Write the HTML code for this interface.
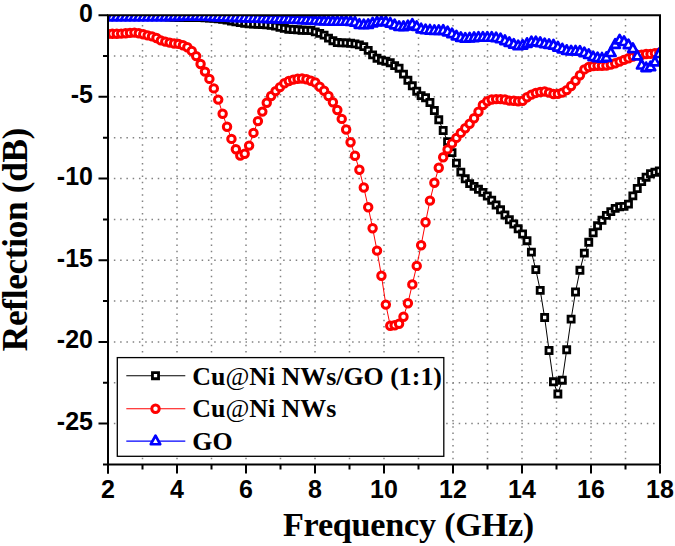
<!DOCTYPE html>
<html><head><meta charset="utf-8"><title>Reflection</title>
<style>html,body{margin:0;padding:0;background:#fff;}svg{display:block;}</style></head>
<body>
<svg width="675" height="546" viewBox="0 0 675 546">
<defs><clipPath id="pc"><rect x="108" y="15" width="552" height="449.4"/></clipPath><path id="msq" d="M-3.05 -3.05h6.1v6.1h-6.1z" stroke="#000" stroke-width="2.8" fill="#fff"/><circle id="mci" cx="0" cy="0" r="3.72" stroke="#f00" stroke-width="3.0" fill="#fff"/><path id="mtr" d="M0 -5.4L4.7 3.15H-4.7z" stroke="#00f" stroke-width="2.7" stroke-linejoin="round" fill="#fff"/></defs>
<rect x="0" y="0" width="675" height="546" fill="#fff"/>
<path d="M142.5 465.4V15 M177 465.4V15 M211.5 465.4V15 M246 465.4V15 M280.5 465.4V15 M315 465.4V15 M349.5 465.4V15 M384 465.4V15 M418.5 465.4V15 M453 465.4V15 M487.5 465.4V15 M522 465.4V15 M556.5 465.4V15 M591 465.4V15 M625.5 465.4V15 M107.6 56.04H660 M107.6 96.87H660 M107.6 137.71H660 M107.6 178.55H660 M107.6 219.38H660 M107.6 260.22H660 M107.6 301.05H660 M107.6 341.89H660 M107.6 382.73H660 M107.6 423.56H660" stroke="#828282" stroke-width="1.5" stroke-dasharray="1.5 4.77" fill="none"/>
<g clip-path="url(#pc)">
<path d="M107.95 16 L112.36 16.02 L116.77 16.03 L121.18 16.05 L125.59 16.07 L130 16.08 L134.42 16.1 L138.83 16.12 L143.24 16.13 L147.65 16.15 L152.06 16.17 L156.47 16.18 L160.88 16.2 L165.29 16.68 L169.7 17.15 L174.12 17.41 L178.53 17.45 L182.94 17.48 L187.35 17.51 L191.76 17.54 L196.17 17.57 L200.58 17.6 L204.99 17.8 L209.4 18 L213.81 18.2 L218.22 18.71 L222.64 19.23 L227.05 19.95 L231.46 20.94 L235.87 21.8 L240.28 22.52 L244.69 23.18 L249.1 23.8 L253.51 24.02 L257.92 24.25 L262.33 24.47 L266.75 24.85 L271.16 25.4 L275.57 26.12 L279.98 27.24 L284.39 28.29 L288.8 29.2 L293.21 29.5 L297.62 29.8 L302.03 30.3 L306.44 30.3 L310.86 30.5 L315.27 31.9 L319.68 33.4 L324.09 35.1 L328.5 38.1 L332.91 40.7 L337.32 42.5 L341.73 42.9 L346.14 42.9 L350.56 43.29 L354.97 43.83 L359.38 44.92 L363.79 46.64 L368.2 50.33 L372.61 54.87 L377.02 58.2 L381.43 60.19 L385.84 61.2 L390.25 62.7 L394.66 65.6 L399.08 68.2 L403.49 74.1 L407.9 80.3 L412.31 85.8 L416.72 91.2 L421.13 95.6 L425.54 97.7 L429.95 102.5 L434.36 110.5 L438.77 119.8 L443.19 130.5 L447.6 141.7 L452.01 152.6 L456.42 163.1 L460.83 172.1 L465.24 178.8 L469.65 183.6 L474.06 186.4 L478.47 189.3 L482.88 192.4 L487.3 196 L491.71 200.2 L496.12 205 L500.53 209.8 L504.94 215 L509.35 219.8 L513.76 224 L518.17 228.8 L522.58 234 L527 240.7 L531.41 252.1 L535.82 269.6 L540.23 290.4 L544.64 317.5 L549.05 350.5 L553.46 381.8 L557.87 394 L562.28 380.2 L566.69 349.8 L571.11 319.1 L575.52 292 L579.93 270.3 L584.34 253.1 L588.75 242.3 L593.16 232.8 L597.57 225.8 L601.98 220.3 L606.39 215.4 L610.8 211.6 L615.21 208.4 L619.63 206.7 L624.04 206.4 L628.45 204.1 L632.86 195.9 L637.27 188.5 L641.68 181.5 L646.09 177.2 L650.5 173.7 L654.91 172.3 L659.33 171" stroke="#000" stroke-width="1.0" fill="none"/>
<use href="#msq" x="107.95" y="16"/><use href="#msq" x="112.36" y="16.02"/><use href="#msq" x="116.77" y="16.03"/><use href="#msq" x="121.18" y="16.05"/><use href="#msq" x="125.59" y="16.07"/><use href="#msq" x="130" y="16.08"/><use href="#msq" x="134.42" y="16.1"/><use href="#msq" x="138.83" y="16.12"/><use href="#msq" x="143.24" y="16.13"/><use href="#msq" x="147.65" y="16.15"/><use href="#msq" x="152.06" y="16.17"/><use href="#msq" x="156.47" y="16.18"/><use href="#msq" x="160.88" y="16.2"/><use href="#msq" x="165.29" y="16.68"/><use href="#msq" x="169.7" y="17.15"/><use href="#msq" x="174.12" y="17.41"/><use href="#msq" x="178.53" y="17.45"/><use href="#msq" x="182.94" y="17.48"/><use href="#msq" x="187.35" y="17.51"/><use href="#msq" x="191.76" y="17.54"/><use href="#msq" x="196.17" y="17.57"/><use href="#msq" x="200.58" y="17.6"/><use href="#msq" x="204.99" y="17.8"/><use href="#msq" x="209.4" y="18"/><use href="#msq" x="213.81" y="18.2"/><use href="#msq" x="218.22" y="18.71"/><use href="#msq" x="222.64" y="19.23"/><use href="#msq" x="227.05" y="19.95"/><use href="#msq" x="231.46" y="20.94"/><use href="#msq" x="235.87" y="21.8"/><use href="#msq" x="240.28" y="22.52"/><use href="#msq" x="244.69" y="23.18"/><use href="#msq" x="249.1" y="23.8"/><use href="#msq" x="253.51" y="24.02"/><use href="#msq" x="257.92" y="24.25"/><use href="#msq" x="262.33" y="24.47"/><use href="#msq" x="266.75" y="24.85"/><use href="#msq" x="271.16" y="25.4"/><use href="#msq" x="275.57" y="26.12"/><use href="#msq" x="279.98" y="27.24"/><use href="#msq" x="284.39" y="28.29"/><use href="#msq" x="288.8" y="29.2"/><use href="#msq" x="293.21" y="29.5"/><use href="#msq" x="297.62" y="29.8"/><use href="#msq" x="302.03" y="30.3"/><use href="#msq" x="306.44" y="30.3"/><use href="#msq" x="310.86" y="30.5"/><use href="#msq" x="315.27" y="31.9"/><use href="#msq" x="319.68" y="33.4"/><use href="#msq" x="324.09" y="35.1"/><use href="#msq" x="328.5" y="38.1"/><use href="#msq" x="332.91" y="40.7"/><use href="#msq" x="337.32" y="42.5"/><use href="#msq" x="341.73" y="42.9"/><use href="#msq" x="346.14" y="42.9"/><use href="#msq" x="350.56" y="43.29"/><use href="#msq" x="354.97" y="43.83"/><use href="#msq" x="359.38" y="44.92"/><use href="#msq" x="363.79" y="46.64"/><use href="#msq" x="368.2" y="50.33"/><use href="#msq" x="372.61" y="54.87"/><use href="#msq" x="377.02" y="58.2"/><use href="#msq" x="381.43" y="60.19"/><use href="#msq" x="385.84" y="61.2"/><use href="#msq" x="390.25" y="62.7"/><use href="#msq" x="394.66" y="65.6"/><use href="#msq" x="399.08" y="68.2"/><use href="#msq" x="403.49" y="74.1"/><use href="#msq" x="407.9" y="80.3"/><use href="#msq" x="412.31" y="85.8"/><use href="#msq" x="416.72" y="91.2"/><use href="#msq" x="421.13" y="95.6"/><use href="#msq" x="425.54" y="97.7"/><use href="#msq" x="429.95" y="102.5"/><use href="#msq" x="434.36" y="110.5"/><use href="#msq" x="438.77" y="119.8"/><use href="#msq" x="443.19" y="130.5"/><use href="#msq" x="447.6" y="141.7"/><use href="#msq" x="452.01" y="152.6"/><use href="#msq" x="456.42" y="163.1"/><use href="#msq" x="460.83" y="172.1"/><use href="#msq" x="465.24" y="178.8"/><use href="#msq" x="469.65" y="183.6"/><use href="#msq" x="474.06" y="186.4"/><use href="#msq" x="478.47" y="189.3"/><use href="#msq" x="482.88" y="192.4"/><use href="#msq" x="487.3" y="196"/><use href="#msq" x="491.71" y="200.2"/><use href="#msq" x="496.12" y="205"/><use href="#msq" x="500.53" y="209.8"/><use href="#msq" x="504.94" y="215"/><use href="#msq" x="509.35" y="219.8"/><use href="#msq" x="513.76" y="224"/><use href="#msq" x="518.17" y="228.8"/><use href="#msq" x="522.58" y="234"/><use href="#msq" x="527" y="240.7"/><use href="#msq" x="531.41" y="252.1"/><use href="#msq" x="535.82" y="269.6"/><use href="#msq" x="540.23" y="290.4"/><use href="#msq" x="544.64" y="317.5"/><use href="#msq" x="549.05" y="350.5"/><use href="#msq" x="553.46" y="381.8"/><use href="#msq" x="557.87" y="394"/><use href="#msq" x="562.28" y="380.2"/><use href="#msq" x="566.69" y="349.8"/><use href="#msq" x="571.11" y="319.1"/><use href="#msq" x="575.52" y="292"/><use href="#msq" x="579.93" y="270.3"/><use href="#msq" x="584.34" y="253.1"/><use href="#msq" x="588.75" y="242.3"/><use href="#msq" x="593.16" y="232.8"/><use href="#msq" x="597.57" y="225.8"/><use href="#msq" x="601.98" y="220.3"/><use href="#msq" x="606.39" y="215.4"/><use href="#msq" x="610.8" y="211.6"/><use href="#msq" x="615.21" y="208.4"/><use href="#msq" x="619.63" y="206.7"/><use href="#msq" x="624.04" y="206.4"/><use href="#msq" x="628.45" y="204.1"/><use href="#msq" x="632.86" y="195.9"/><use href="#msq" x="637.27" y="188.5"/><use href="#msq" x="641.68" y="181.5"/><use href="#msq" x="646.09" y="177.2"/><use href="#msq" x="650.5" y="173.7"/><use href="#msq" x="654.91" y="172.3"/><use href="#msq" x="659.33" y="171"/>
<path d="M107.95 33.9 L112.36 33.8 L116.77 33.7 L121.18 33.6 L125.59 33.25 L130 32.9 L134.42 32.6 L138.83 33.2 L143.24 34.3 L147.65 35.4 L152.06 36.4 L156.47 38 L160.88 40.4 L165.29 41.6 L169.7 42.6 L174.12 43.5 L178.53 43.9 L182.94 45.2 L187.35 47.3 L191.76 50.9 L196.17 56.1 L200.58 64 L204.99 71.6 L209.4 78.9 L213.81 88.4 L218.22 99.6 L222.64 113.8 L227.05 126.7 L231.46 138.9 L235.87 149.3 L240.28 155.6 L244.69 153.8 L249.1 145.6 L253.51 132.9 L257.92 121.1 L262.33 111.6 L266.75 102.7 L271.16 96 L275.57 91.1 L279.98 87.1 L284.39 83.2 L288.8 81 L293.21 79.6 L297.62 78.8 L302.03 78.5 L306.44 79.2 L310.86 80.8 L315.27 82.5 L319.68 86.7 L324.09 90.7 L328.5 96 L332.91 102.2 L337.32 110 L341.73 118.9 L346.14 129.5 L350.56 142.2 L354.97 155.7 L359.38 169.8 L363.79 187.5 L368.2 207.2 L372.61 228.2 L377.02 250.6 L381.43 275.8 L385.84 304.6 L390.25 325.7 L394.66 325.3 L399.08 323.7 L403.49 316.7 L407.9 303.2 L412.31 284.4 L416.72 265.9 L421.13 245.2 L425.54 222.3 L429.95 200.6 L434.36 182.8 L438.77 167.7 L443.19 157.3 L447.6 149.4 L452.01 143.4 L456.42 137.9 L460.83 132.9 L465.24 128.2 L469.65 123.8 L474.06 118.3 L478.47 111.7 L482.88 105 L487.3 101.3 L491.71 99.5 L496.12 99.1 L500.53 99.1 L504.94 99.5 L509.35 100.6 L513.76 100.8 L518.17 101.2 L522.58 100.7 L527 97.25 L531.41 94.62 L535.82 92.92 L540.23 91.96 L544.64 91.5 L549.05 92.6 L553.46 94.02 L557.87 93.9 L562.28 92.6 L566.69 90.1 L571.11 86 L575.52 80.7 L579.93 75.2 L584.34 69.41 L588.75 67.01 L593.16 66.02 L597.57 65.8 L601.98 65.8 L606.39 65.47 L610.8 64.5 L615.21 63.2 L619.63 61.6 L624.04 59.9 L628.45 58.3 L632.86 56.6 L637.27 55 L641.68 54.8 L646.09 54 L650.5 53.89 L654.91 53.15 L659.33 52.6" stroke="#f00" stroke-width="1.0" fill="none"/>
<use href="#mci" x="107.95" y="33.9"/><use href="#mci" x="112.36" y="33.8"/><use href="#mci" x="116.77" y="33.7"/><use href="#mci" x="121.18" y="33.6"/><use href="#mci" x="125.59" y="33.25"/><use href="#mci" x="130" y="32.9"/><use href="#mci" x="134.42" y="32.6"/><use href="#mci" x="138.83" y="33.2"/><use href="#mci" x="143.24" y="34.3"/><use href="#mci" x="147.65" y="35.4"/><use href="#mci" x="152.06" y="36.4"/><use href="#mci" x="156.47" y="38"/><use href="#mci" x="160.88" y="40.4"/><use href="#mci" x="165.29" y="41.6"/><use href="#mci" x="169.7" y="42.6"/><use href="#mci" x="174.12" y="43.5"/><use href="#mci" x="178.53" y="43.9"/><use href="#mci" x="182.94" y="45.2"/><use href="#mci" x="187.35" y="47.3"/><use href="#mci" x="191.76" y="50.9"/><use href="#mci" x="196.17" y="56.1"/><use href="#mci" x="200.58" y="64"/><use href="#mci" x="204.99" y="71.6"/><use href="#mci" x="209.4" y="78.9"/><use href="#mci" x="213.81" y="88.4"/><use href="#mci" x="218.22" y="99.6"/><use href="#mci" x="222.64" y="113.8"/><use href="#mci" x="227.05" y="126.7"/><use href="#mci" x="231.46" y="138.9"/><use href="#mci" x="235.87" y="149.3"/><use href="#mci" x="240.28" y="155.6"/><use href="#mci" x="244.69" y="153.8"/><use href="#mci" x="249.1" y="145.6"/><use href="#mci" x="253.51" y="132.9"/><use href="#mci" x="257.92" y="121.1"/><use href="#mci" x="262.33" y="111.6"/><use href="#mci" x="266.75" y="102.7"/><use href="#mci" x="271.16" y="96"/><use href="#mci" x="275.57" y="91.1"/><use href="#mci" x="279.98" y="87.1"/><use href="#mci" x="284.39" y="83.2"/><use href="#mci" x="288.8" y="81"/><use href="#mci" x="293.21" y="79.6"/><use href="#mci" x="297.62" y="78.8"/><use href="#mci" x="302.03" y="78.5"/><use href="#mci" x="306.44" y="79.2"/><use href="#mci" x="310.86" y="80.8"/><use href="#mci" x="315.27" y="82.5"/><use href="#mci" x="319.68" y="86.7"/><use href="#mci" x="324.09" y="90.7"/><use href="#mci" x="328.5" y="96"/><use href="#mci" x="332.91" y="102.2"/><use href="#mci" x="337.32" y="110"/><use href="#mci" x="341.73" y="118.9"/><use href="#mci" x="346.14" y="129.5"/><use href="#mci" x="350.56" y="142.2"/><use href="#mci" x="354.97" y="155.7"/><use href="#mci" x="359.38" y="169.8"/><use href="#mci" x="363.79" y="187.5"/><use href="#mci" x="368.2" y="207.2"/><use href="#mci" x="372.61" y="228.2"/><use href="#mci" x="377.02" y="250.6"/><use href="#mci" x="381.43" y="275.8"/><use href="#mci" x="385.84" y="304.6"/><use href="#mci" x="390.25" y="325.7"/><use href="#mci" x="394.66" y="325.3"/><use href="#mci" x="399.08" y="323.7"/><use href="#mci" x="403.49" y="316.7"/><use href="#mci" x="407.9" y="303.2"/><use href="#mci" x="412.31" y="284.4"/><use href="#mci" x="416.72" y="265.9"/><use href="#mci" x="421.13" y="245.2"/><use href="#mci" x="425.54" y="222.3"/><use href="#mci" x="429.95" y="200.6"/><use href="#mci" x="434.36" y="182.8"/><use href="#mci" x="438.77" y="167.7"/><use href="#mci" x="443.19" y="157.3"/><use href="#mci" x="447.6" y="149.4"/><use href="#mci" x="452.01" y="143.4"/><use href="#mci" x="456.42" y="137.9"/><use href="#mci" x="460.83" y="132.9"/><use href="#mci" x="465.24" y="128.2"/><use href="#mci" x="469.65" y="123.8"/><use href="#mci" x="474.06" y="118.3"/><use href="#mci" x="478.47" y="111.7"/><use href="#mci" x="482.88" y="105"/><use href="#mci" x="487.3" y="101.3"/><use href="#mci" x="491.71" y="99.5"/><use href="#mci" x="496.12" y="99.1"/><use href="#mci" x="500.53" y="99.1"/><use href="#mci" x="504.94" y="99.5"/><use href="#mci" x="509.35" y="100.6"/><use href="#mci" x="513.76" y="100.8"/><use href="#mci" x="518.17" y="101.2"/><use href="#mci" x="522.58" y="100.7"/><use href="#mci" x="527" y="97.25"/><use href="#mci" x="531.41" y="94.62"/><use href="#mci" x="535.82" y="92.92"/><use href="#mci" x="540.23" y="91.96"/><use href="#mci" x="544.64" y="91.5"/><use href="#mci" x="549.05" y="92.6"/><use href="#mci" x="553.46" y="94.02"/><use href="#mci" x="557.87" y="93.9"/><use href="#mci" x="562.28" y="92.6"/><use href="#mci" x="566.69" y="90.1"/><use href="#mci" x="571.11" y="86"/><use href="#mci" x="575.52" y="80.7"/><use href="#mci" x="579.93" y="75.2"/><use href="#mci" x="584.34" y="69.41"/><use href="#mci" x="588.75" y="67.01"/><use href="#mci" x="593.16" y="66.02"/><use href="#mci" x="597.57" y="65.8"/><use href="#mci" x="601.98" y="65.8"/><use href="#mci" x="606.39" y="65.47"/><use href="#mci" x="610.8" y="64.5"/><use href="#mci" x="615.21" y="63.2"/><use href="#mci" x="619.63" y="61.6"/><use href="#mci" x="624.04" y="59.9"/><use href="#mci" x="628.45" y="58.3"/><use href="#mci" x="632.86" y="56.6"/><use href="#mci" x="637.27" y="55"/><use href="#mci" x="641.68" y="54.8"/><use href="#mci" x="646.09" y="54"/><use href="#mci" x="650.5" y="53.89"/><use href="#mci" x="654.91" y="53.15"/><use href="#mci" x="659.33" y="52.6"/>
<path d="M107.95 17 L112.36 17.01 L116.77 17.02 L121.18 17.03 L125.59 17.04 L130 17.05 L134.42 17.06 L138.83 17.07 L143.24 17.08 L147.65 17.09 L152.06 17.07 L156.47 17.01 L160.88 16.95 L165.29 16.89 L169.7 16.81 L174.12 16.72 L178.53 16.63 L182.94 16.54 L187.35 16.51 L191.76 16.53 L196.17 16.56 L200.58 16.58 L204.99 16.6 L209.4 16.78 L213.81 16.95 L218.22 17.13 L222.64 17.31 L227.05 17.48 L231.46 17.65 L235.87 17.81 L240.28 17.96 L244.69 18.11 L249.1 18.27 L253.51 18.41 L257.92 18.54 L262.33 18.67 L266.75 18.8 L271.16 18.93 L275.57 19.07 L279.98 19.2 L284.39 19.33 L288.8 19.46 L293.21 19.6 L297.62 19.73 L302.03 19.91 L306.44 20.15 L310.86 20.4 L315.27 20.64 L319.68 20.88 L324.09 21.13 L328.5 21.37 L332.91 21.6 L337.32 21.6 L341.73 21.6 L346.14 21.6 L350.56 21.74 L354.97 22.43 L359.38 24.68 L363.79 25.1 L368.2 24.8 L372.61 23.33 L377.02 22.27 L381.43 21.71 L385.84 22.03 L390.25 23.43 L394.66 25.14 L399.08 26.81 L403.49 26.9 L407.9 26.15 L412.31 24.46 L416.72 26.71 L421.13 29.18 L425.54 30.12 L429.95 30.43 L434.36 30.8 L438.77 30.78 L443.19 30.67 L447.6 32.16 L452.01 34.04 L456.42 36.21 L460.83 37.73 L465.24 38.59 L469.65 38.28 L474.06 37.88 L478.47 37.51 L482.88 37.56 L487.3 37.6 L491.71 37.6 L496.12 38 L500.53 39.08 L504.94 40.88 L509.35 42.78 L513.76 44.54 L518.17 46.05 L522.58 45.47 L527 43.7 L531.41 42 L535.82 42.17 L540.23 42.9 L544.64 43.96 L549.05 44.75 L553.46 45.39 L557.87 47.41 L562.28 49.2 L566.69 50.69 L571.11 51.25 L575.52 51.26 L579.93 51.54 L584.34 53.03 L588.75 54.84 L593.16 57.07 L597.57 58.02 L601.98 58.43 L606.39 57.7 L610.8 52.83 L615.21 44.63 L619.63 40.24 L624.04 41.85 L628.45 45.01 L632.86 48.92 L637.27 56.2 L641.68 65.36 L646.09 67.94 L650.5 67.1 L654.91 62.25 L659.33 53.85" stroke="#00f" stroke-width="1.0" fill="none"/>
<use href="#mtr" x="107.95" y="17"/><use href="#mtr" x="112.36" y="17.01"/><use href="#mtr" x="116.77" y="17.02"/><use href="#mtr" x="121.18" y="17.03"/><use href="#mtr" x="125.59" y="17.04"/><use href="#mtr" x="130" y="17.05"/><use href="#mtr" x="134.42" y="17.06"/><use href="#mtr" x="138.83" y="17.07"/><use href="#mtr" x="143.24" y="17.08"/><use href="#mtr" x="147.65" y="17.09"/><use href="#mtr" x="152.06" y="17.07"/><use href="#mtr" x="156.47" y="17.01"/><use href="#mtr" x="160.88" y="16.95"/><use href="#mtr" x="165.29" y="16.89"/><use href="#mtr" x="169.7" y="16.81"/><use href="#mtr" x="174.12" y="16.72"/><use href="#mtr" x="178.53" y="16.63"/><use href="#mtr" x="182.94" y="16.54"/><use href="#mtr" x="187.35" y="16.51"/><use href="#mtr" x="191.76" y="16.53"/><use href="#mtr" x="196.17" y="16.56"/><use href="#mtr" x="200.58" y="16.58"/><use href="#mtr" x="204.99" y="16.6"/><use href="#mtr" x="209.4" y="16.78"/><use href="#mtr" x="213.81" y="16.95"/><use href="#mtr" x="218.22" y="17.13"/><use href="#mtr" x="222.64" y="17.31"/><use href="#mtr" x="227.05" y="17.48"/><use href="#mtr" x="231.46" y="17.65"/><use href="#mtr" x="235.87" y="17.81"/><use href="#mtr" x="240.28" y="17.96"/><use href="#mtr" x="244.69" y="18.11"/><use href="#mtr" x="249.1" y="18.27"/><use href="#mtr" x="253.51" y="18.41"/><use href="#mtr" x="257.92" y="18.54"/><use href="#mtr" x="262.33" y="18.67"/><use href="#mtr" x="266.75" y="18.8"/><use href="#mtr" x="271.16" y="18.93"/><use href="#mtr" x="275.57" y="19.07"/><use href="#mtr" x="279.98" y="19.2"/><use href="#mtr" x="284.39" y="19.33"/><use href="#mtr" x="288.8" y="19.46"/><use href="#mtr" x="293.21" y="19.6"/><use href="#mtr" x="297.62" y="19.73"/><use href="#mtr" x="302.03" y="19.91"/><use href="#mtr" x="306.44" y="20.15"/><use href="#mtr" x="310.86" y="20.4"/><use href="#mtr" x="315.27" y="20.64"/><use href="#mtr" x="319.68" y="20.88"/><use href="#mtr" x="324.09" y="21.13"/><use href="#mtr" x="328.5" y="21.37"/><use href="#mtr" x="332.91" y="21.6"/><use href="#mtr" x="337.32" y="21.6"/><use href="#mtr" x="341.73" y="21.6"/><use href="#mtr" x="346.14" y="21.6"/><use href="#mtr" x="350.56" y="21.74"/><use href="#mtr" x="354.97" y="22.43"/><use href="#mtr" x="359.38" y="24.68"/><use href="#mtr" x="363.79" y="25.1"/><use href="#mtr" x="368.2" y="24.8"/><use href="#mtr" x="372.61" y="23.33"/><use href="#mtr" x="377.02" y="22.27"/><use href="#mtr" x="381.43" y="21.71"/><use href="#mtr" x="385.84" y="22.03"/><use href="#mtr" x="390.25" y="23.43"/><use href="#mtr" x="394.66" y="25.14"/><use href="#mtr" x="399.08" y="26.81"/><use href="#mtr" x="403.49" y="26.9"/><use href="#mtr" x="407.9" y="26.15"/><use href="#mtr" x="412.31" y="24.46"/><use href="#mtr" x="416.72" y="26.71"/><use href="#mtr" x="421.13" y="29.18"/><use href="#mtr" x="425.54" y="30.12"/><use href="#mtr" x="429.95" y="30.43"/><use href="#mtr" x="434.36" y="30.8"/><use href="#mtr" x="438.77" y="30.78"/><use href="#mtr" x="443.19" y="30.67"/><use href="#mtr" x="447.6" y="32.16"/><use href="#mtr" x="452.01" y="34.04"/><use href="#mtr" x="456.42" y="36.21"/><use href="#mtr" x="460.83" y="37.73"/><use href="#mtr" x="465.24" y="38.59"/><use href="#mtr" x="469.65" y="38.28"/><use href="#mtr" x="474.06" y="37.88"/><use href="#mtr" x="478.47" y="37.51"/><use href="#mtr" x="482.88" y="37.56"/><use href="#mtr" x="487.3" y="37.6"/><use href="#mtr" x="491.71" y="37.6"/><use href="#mtr" x="496.12" y="38"/><use href="#mtr" x="500.53" y="39.08"/><use href="#mtr" x="504.94" y="40.88"/><use href="#mtr" x="509.35" y="42.78"/><use href="#mtr" x="513.76" y="44.54"/><use href="#mtr" x="518.17" y="46.05"/><use href="#mtr" x="522.58" y="45.47"/><use href="#mtr" x="527" y="43.7"/><use href="#mtr" x="531.41" y="42"/><use href="#mtr" x="535.82" y="42.17"/><use href="#mtr" x="540.23" y="42.9"/><use href="#mtr" x="544.64" y="43.96"/><use href="#mtr" x="549.05" y="44.75"/><use href="#mtr" x="553.46" y="45.39"/><use href="#mtr" x="557.87" y="47.41"/><use href="#mtr" x="562.28" y="49.2"/><use href="#mtr" x="566.69" y="50.69"/><use href="#mtr" x="571.11" y="51.25"/><use href="#mtr" x="575.52" y="51.26"/><use href="#mtr" x="579.93" y="51.54"/><use href="#mtr" x="584.34" y="53.03"/><use href="#mtr" x="588.75" y="54.84"/><use href="#mtr" x="593.16" y="57.07"/><use href="#mtr" x="597.57" y="58.02"/><use href="#mtr" x="601.98" y="58.43"/><use href="#mtr" x="606.39" y="57.7"/><use href="#mtr" x="610.8" y="52.83"/><use href="#mtr" x="615.21" y="44.63"/><use href="#mtr" x="619.63" y="40.24"/><use href="#mtr" x="624.04" y="41.85"/><use href="#mtr" x="628.45" y="45.01"/><use href="#mtr" x="632.86" y="48.92"/><use href="#mtr" x="637.27" y="56.2"/><use href="#mtr" x="641.68" y="65.36"/><use href="#mtr" x="646.09" y="67.94"/><use href="#mtr" x="650.5" y="67.1"/><use href="#mtr" x="654.91" y="62.25"/><use href="#mtr" x="659.33" y="53.85"/>
</g>
<path d="M108 15.2H660V464.4M108 14.2V473.5M107 464.4H660" stroke="#000" stroke-width="2" fill="none"/>
<path d="M108 464.4v9 M142.5 464.4v5 M177 464.4v9 M211.5 464.4v5 M246 464.4v9 M280.5 464.4v5 M315 464.4v9 M349.5 464.4v5 M384 464.4v9 M418.5 464.4v5 M453 464.4v9 M487.5 464.4v5 M522 464.4v9 M556.5 464.4v5 M591 464.4v9 M625.5 464.4v5 M660 464.4v9 M108 15.2h-9.5 M108 56.04h-5 M108 96.87h-9.5 M108 137.71h-5 M108 178.55h-9.5 M108 219.38h-5 M108 260.22h-9.5 M108 301.05h-5 M108 341.89h-9.5 M108 382.73h-5 M108 423.56h-9.5 M108 464.4h-5" stroke="#000" stroke-width="2" fill="none"/>
<g font-family="Liberation Sans, sans-serif" font-weight="bold" font-size="25" fill="#000">
<text x="108" y="497.8" text-anchor="middle">2</text>
<text x="177" y="497.8" text-anchor="middle">4</text>
<text x="246" y="497.8" text-anchor="middle">6</text>
<text x="315" y="497.8" text-anchor="middle">8</text>
<text x="384" y="497.8" text-anchor="middle">10</text>
<text x="453" y="497.8" text-anchor="middle">12</text>
<text x="522" y="497.8" text-anchor="middle">14</text>
<text x="591" y="497.8" text-anchor="middle">16</text>
<text x="660" y="497.8" text-anchor="middle">18</text>
<text x="93" y="21.8" text-anchor="end">0</text>
<text x="93" y="103.47" text-anchor="end">-5</text>
<text x="93" y="185.15" text-anchor="end">-10</text>
<text x="93" y="266.82" text-anchor="end">-15</text>
<text x="93" y="348.49" text-anchor="end">-20</text>
<text x="93" y="430.16" text-anchor="end">-25</text>
</g>
<text x="408.5" y="536.2" text-anchor="middle" font-family="Liberation Serif, serif" font-weight="bold" font-size="34.2" letter-spacing="-0.25" fill="#000">Frequency (GHz)</text>
<text transform="translate(27 239.6) rotate(-90)" x="0" y="0" text-anchor="middle" font-family="Liberation Serif, serif" font-weight="bold" font-size="35.2" letter-spacing="-0.3" fill="#000">Reflection (dB)</text>
<rect x="117.3" y="357.6" width="326.5" height="98.7" fill="#fff" stroke="#000" stroke-width="1.3"/>
<path d="M126.3 375.7H185.3" stroke="#000" stroke-width="1.1"/>
<path d="M126.3 408.8H185.3" stroke="#f00" stroke-width="1.1"/>
<path d="M126.3 441.1H185.3" stroke="#00f" stroke-width="1.1"/>
<use href="#msq" x="155.5" y="375.7"/>
<use href="#mci" x="155.5" y="408.8"/>
<use href="#mtr" x="155.5" y="441.1"/>
<g font-family="Liberation Serif, serif" font-weight="bold" font-size="25.9" fill="#000">
<text x="192.3" y="384.5">Cu<tspan font-weight="normal">@</tspan>Ni NWs/GO (1:1)</text>
<text x="192.3" y="417.2">Cu<tspan font-weight="normal">@</tspan>Ni NWs</text>
<text x="192.3" y="449.6">GO</text>
</g>
</svg>
</body></html>
